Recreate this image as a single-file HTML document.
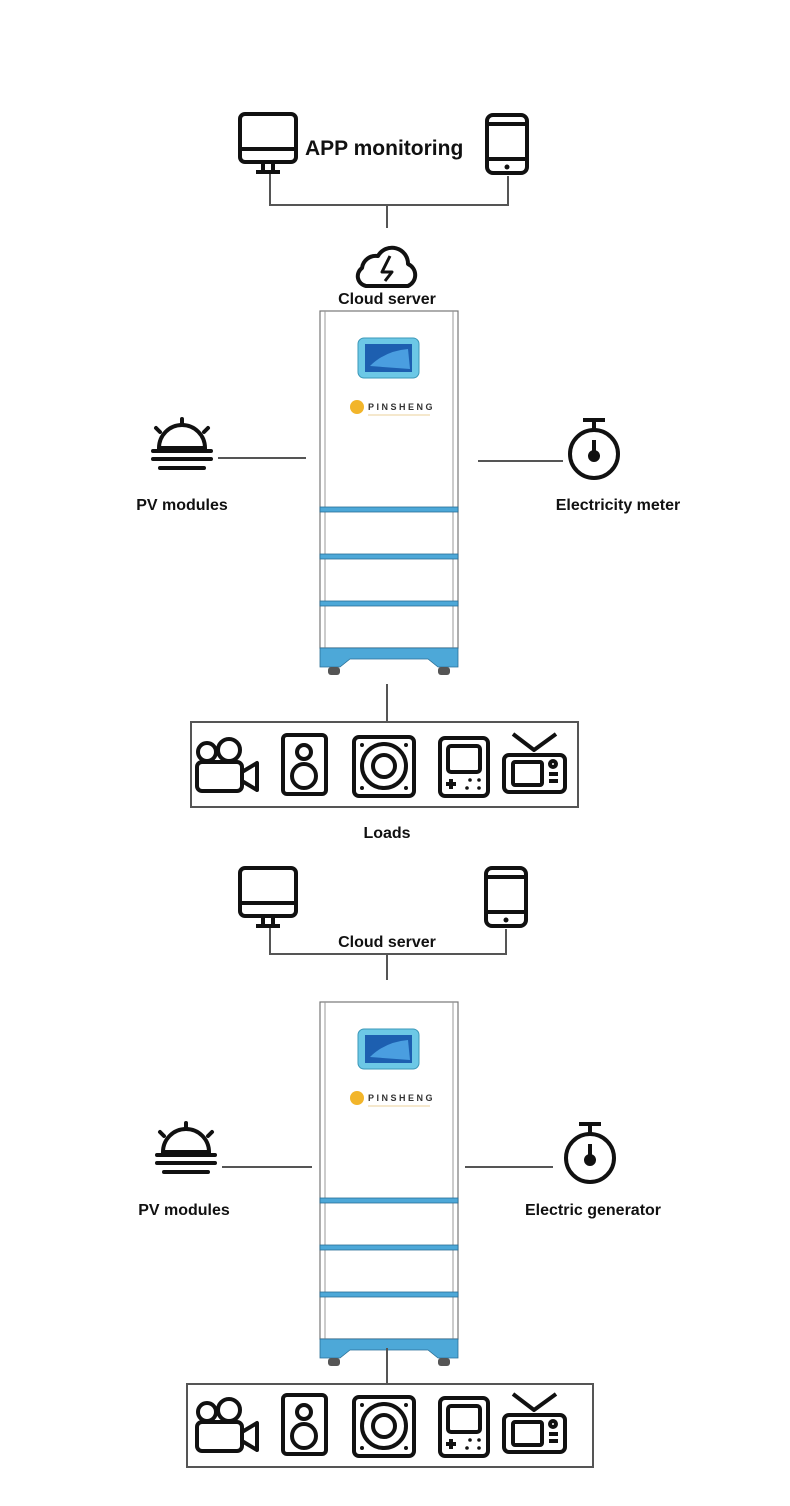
<!DOCTYPE html>
<html><head><meta charset="utf-8"><style>
html,body{margin:0;padding:0;background:#fff}
svg{display:block}
text{font-family:"Liberation Sans","DejaVu Sans",sans-serif;font-weight:bold;fill:#111}
</style></head><body>
<svg width="790" height="1506" viewBox="0 0 790 1506" xmlns="http://www.w3.org/2000/svg">
<defs>
<g id="monitor" fill="none" stroke="#111" stroke-width="4" stroke-linejoin="round">
  <rect x="2" y="2" width="56" height="48" rx="5"/>
  <line x1="2" y1="37" x2="58" y2="37"/>
  <line x1="25" y1="50" x2="25" y2="58"/><line x1="35" y1="50" x2="35" y2="58"/>
  <line x1="18" y1="60" x2="42" y2="60"/>
</g>
<g id="tablet" fill="none" stroke="#111" stroke-width="4">
  <rect x="2" y="2" width="40" height="58" rx="6"/>
  <line x1="2" y1="11" x2="42" y2="11"/><line x1="2" y1="46" x2="42" y2="46"/>
  <circle cx="22" cy="54" r="2.5" fill="#111" stroke="none"/>
</g>
<g id="sun" fill="none" stroke="#111" stroke-width="4" stroke-linecap="round">
  <path d="M7 30 A23 23 0 0 1 53 30 Z"/>
  <line x1="30" y1="1" x2="30" y2="6"/><line x1="4" y1="10" x2="8" y2="14"/><line x1="56" y1="10" x2="52" y2="14"/>
  <line x1="1" y1="33" x2="59" y2="33"/><line x1="1" y1="41" x2="59" y2="41"/><line x1="8" y1="50" x2="52" y2="50"/>
</g>
<g id="meter" fill="none" stroke="#111" stroke-width="4">
  <line x1="16" y1="2" x2="38" y2="2"/><line x1="27" y1="2" x2="27" y2="12"/>
  <circle cx="27" cy="36" r="24"/>
  <line x1="27" y1="22" x2="27" y2="36"/><circle cx="27" cy="38" r="4" fill="#111"/>
</g>
<g id="cabinet">
  <rect x="320" y="0" width="138" height="337" fill="#fff" stroke="#777" stroke-width="1.2"/>
  <line x1="325" y1="0" x2="325" y2="337" stroke="#999" stroke-width="1"/>
  <line x1="453" y1="0" x2="453" y2="337" stroke="#999" stroke-width="1"/>
  <rect x="358" y="27" width="61" height="40" rx="6" fill="#6cc8e6" stroke="#3b98b8"/>
  <rect x="365" y="33" width="47" height="28" fill="#1d5fb0"/>
  <path d="M370 55 Q385 40 408 38 L410 58 Z" fill="#4a9ee0"/>
  <circle cx="357" cy="96" r="7" fill="#f2b52a"/>
  <text x="368" y="99" font-size="9" letter-spacing="2.5" style="fill:#333">PINSHENG</text>
  <line x1="368" y1="104" x2="430" y2="104" stroke="#e5c37a" stroke-width="0.8"/>
  <g fill="#4da8d8" stroke="#2a6f96" stroke-width="0.8">
    <rect x="320" y="196" width="138" height="5"/>
    <rect x="320" y="243" width="138" height="5"/>
    <rect x="320" y="290" width="138" height="5"/>
    <path d="M320 337 H458 V356 H438 L428 348 H350 L340 356 H320 Z"/>
  </g>
  <rect x="328" y="356" width="12" height="8" rx="3" fill="#555"/>
  <rect x="438" y="356" width="12" height="8" rx="3" fill="#555"/>
</g>
<g id="loads" fill="none" stroke="#111" stroke-width="4" stroke-linejoin="round">
  <circle cx="207" cy="752" r="9"/><circle cx="229" cy="750" r="11"/>
  <rect x="197" y="762" width="45" height="29" rx="5"/>
  <path d="M242 772 L257 763 V790 L242 781"/>
  <rect x="283" y="735" width="43" height="59" rx="4"/>
  <circle cx="304" cy="752" r="7"/><circle cx="304" cy="776" r="12"/>
  <rect x="354" y="737" width="60" height="59" rx="5"/>
  <circle cx="384" cy="766" r="22"/><circle cx="384" cy="766" r="11"/>
  <g fill="#111" stroke="none">
    <circle cx="362" cy="745" r="2"/><circle cx="406" cy="745" r="2"/>
    <circle cx="362" cy="788" r="2"/><circle cx="406" cy="788" r="2"/>
    <circle cx="470" cy="780" r="1.8"/><circle cx="479" cy="780" r="1.8"/>
    <circle cx="467" cy="788" r="1.8"/><circle cx="479" cy="788" r="1.8"/>
  </g>
  <rect x="440" y="738" width="48" height="58" rx="5"/>
  <rect x="448" y="746" width="32" height="26" rx="3"/>
  <path d="M446 784 H456 M451 779 V789"/>
  <rect x="504" y="755" width="61" height="37" rx="5"/>
  <rect x="513" y="762" width="29" height="23" rx="2"/>
  <circle cx="553" cy="764" r="3"/><path d="M549 774 H558 M549 781 H558"/>
  <path d="M513 734 L534 750 L556 734"/>
</g>
</defs>

<use href="#monitor" x="238" y="112"/>
<use href="#tablet" x="485" y="113"/>
<text x="305" y="155" font-size="21">APP monitoring</text>
<path d="M270 174 V205 H508 V176 M387 205 V228" fill="none" stroke="#555" stroke-width="2"/>
<g fill="none" stroke="#111" stroke-width="4" stroke-linejoin="round">
  <path d="M366 286 A10 10 0 0 1 362 268 A14 14 0 0 1 378 256 A16 16 0 0 1 408 264 A12 12 0 0 1 408 286 Z"/>
  <path d="M390 256 L382 272 H392 L385 281" stroke-width="3"/>
</g>
<text x="387" y="304" font-size="16" text-anchor="middle">Cloud server</text>
<use href="#cabinet" y="311"/>
<use href="#sun" x="152" y="418"/>
<line x1="218" y1="458" x2="306" y2="458" stroke="#555" stroke-width="2"/>
<text x="182" y="510" font-size="16" text-anchor="middle">PV modules</text>
<use href="#meter" x="567" y="418"/>
<line x1="478" y1="461" x2="563" y2="461" stroke="#555" stroke-width="2"/>
<text x="618" y="510" font-size="16" text-anchor="middle">Electricity meter</text>
<line x1="387" y1="684" x2="387" y2="722" stroke="#555" stroke-width="2"/>
<rect x="191" y="722" width="387" height="85" fill="none" stroke="#555" stroke-width="2"/>
<use href="#loads"/>
<text x="387" y="838" font-size="16" text-anchor="middle">Loads</text>

<use href="#monitor" x="238" y="866"/>
<use href="#tablet" x="484" y="866"/>
<path d="M270 928 V954 H506 V929 M387 954 V980" fill="none" stroke="#555" stroke-width="2"/>
<text x="387" y="947" font-size="16" text-anchor="middle">Cloud server</text>
<use href="#cabinet" y="1002"/>
<use href="#sun" x="156" y="1122"/>
<line x1="222" y1="1167" x2="312" y2="1167" stroke="#555" stroke-width="2"/>
<text x="184" y="1215" font-size="16" text-anchor="middle">PV modules</text>
<use href="#meter" x="563" y="1122"/>
<line x1="465" y1="1167" x2="553" y2="1167" stroke="#555" stroke-width="2"/>
<text x="593" y="1215" font-size="16" text-anchor="middle">Electric generator</text>
<line x1="387" y1="1348" x2="387" y2="1384" stroke="#555" stroke-width="2"/>
<rect x="187" y="1384" width="406" height="83" fill="none" stroke="#555" stroke-width="2"/>
<use href="#loads" y="660"/>
</svg>
</body></html>
